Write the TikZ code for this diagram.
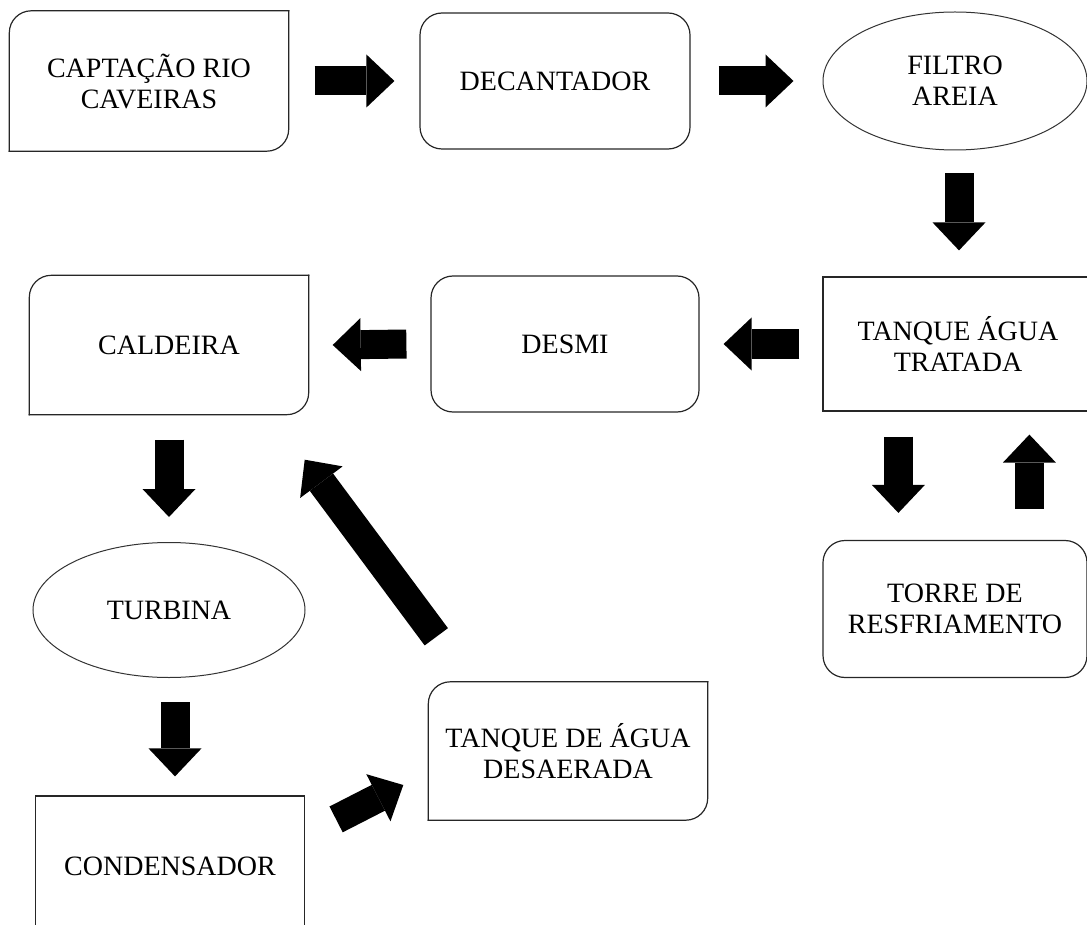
\documentclass[tikz,border=0pt]{standalone}
\usepackage{fontspec}
\setmainfont{Liberation Serif}
\usetikzlibrary{arrows.meta,shapes.geometric}

\newcommand{\diagframe}[1]{%
  \draw[line width=1.2pt, black!85, line cap=rect, rounded corners=22pt]
    (#1.south west) -- (#1.north west) -- (#1.north east);
  \draw[line width=1.2pt, black!85, line cap=rect, rounded corners=22pt]
    (#1.north east) -- (#1.south east) -- (#1.south west);}

\begin{document}
\begin{tikzpicture}[x=1pt, y=-1pt, font=\fontsize{28}{31}\selectfont,
    blk/.style={line width=29pt, -{Triangle[width=53pt, length=28pt, line width=0pt]}}]

    \tikzstyle{every node}=[align=center, inner sep=0pt, text=black]
    \tikzstyle{sq}=[draw=black!85, line width=1.2pt, rectangle]
    \tikzstyle{rbox}=[sq, rounded corners=22pt]
    \tikzstyle{dbox}=[rectangle]
    \tikzstyle{ell}=[draw=black!80, line width=1pt, ellipse]

    \clip (0,0) rectangle (1087,925);

    \node[dbox, minimum width=279pt, minimum height=140pt] (capt)  at (149,81)  {CAPTAÇÃO RIO\\CAVEIRAS};
    \node[rbox, minimum width=270pt, minimum height=136pt] (dec)   at (555,81)  {DECANTADOR};
    \node[ell,  minimum width=264pt, minimum height=138pt] (fil)   at (955,81)  {FILTRO\\AREIA};
    \node[sq,   minimum width=270pt, minimum height=134pt] (tat)   at (958,344) {TANQUE ÁGUA\\TRATADA};
    \node[rbox, minimum width=268pt, minimum height=136pt] (desmi) at (565,344) {DESMI};
    \node[dbox, minimum width=279pt, minimum height=139pt] (cald)  at (169,345) {CALDEIRA};
    \node[rbox, minimum width=264pt, minimum height=137pt] (torre) at (955,609) {TORRE DE\\RESFRIAMENTO};
    \node[ell,  minimum width=272pt, minimum height=135pt] (turb)  at (169,610) {TURBINA};
    \node[sq,   minimum width=269pt, minimum height=140pt] (cond)  at (170,866) {CONDENSADOR};
    \node[dbox, minimum width=279pt, minimum height=138pt] (desa)  at (568,751) {TANQUE DE ÁGUA\\DESAERADA};

    \diagframe{capt}
    \diagframe{cald}
    \diagframe{desa}

    \draw[blk] ([xshift=26pt]capt.east) -- ([xshift=-25pt]dec.west);
    \draw[blk] ([xshift=28pt]dec.east) -- ([xshift=-29pt]fil.west);
    \draw[blk] ([shift={(4,23)}]fil.south) -- ([shift={(1,-26)}]tat.north);
    \draw[blk] ([xshift=-23pt]tat.west) -- ([xshift=24pt]desmi.east);
    \draw[blk] ([xshift=-24pt]desmi.west) -- ([xshift=24pt]cald.east);
    \draw[blk] ([yshift=-25pt]cald.south) -- ([yshift=25pt]turb.north);
    \draw[blk] ([shift={(6,24)}]turb.south) -- ([shift={(5,-19)}]cond.north);
    \draw[blk] ([shift={(31,24)}]cond.north east) -- ([shift={(-25,34)}]desa.west);
    \draw[blk] ([shift={(8,-45)}]desa.north west) -- ([shift={(-4,45)}]cald.south east);
    \draw[blk] ([shift={(76,25)}]tat.south west) -- ([shift={(76,-27)}]torre.north west);
    \draw[blk] ([shift={(207,-31)}]torre.north west) -- ([shift={(207,23)}]tat.south west);
\end{tikzpicture}
\end{document}
